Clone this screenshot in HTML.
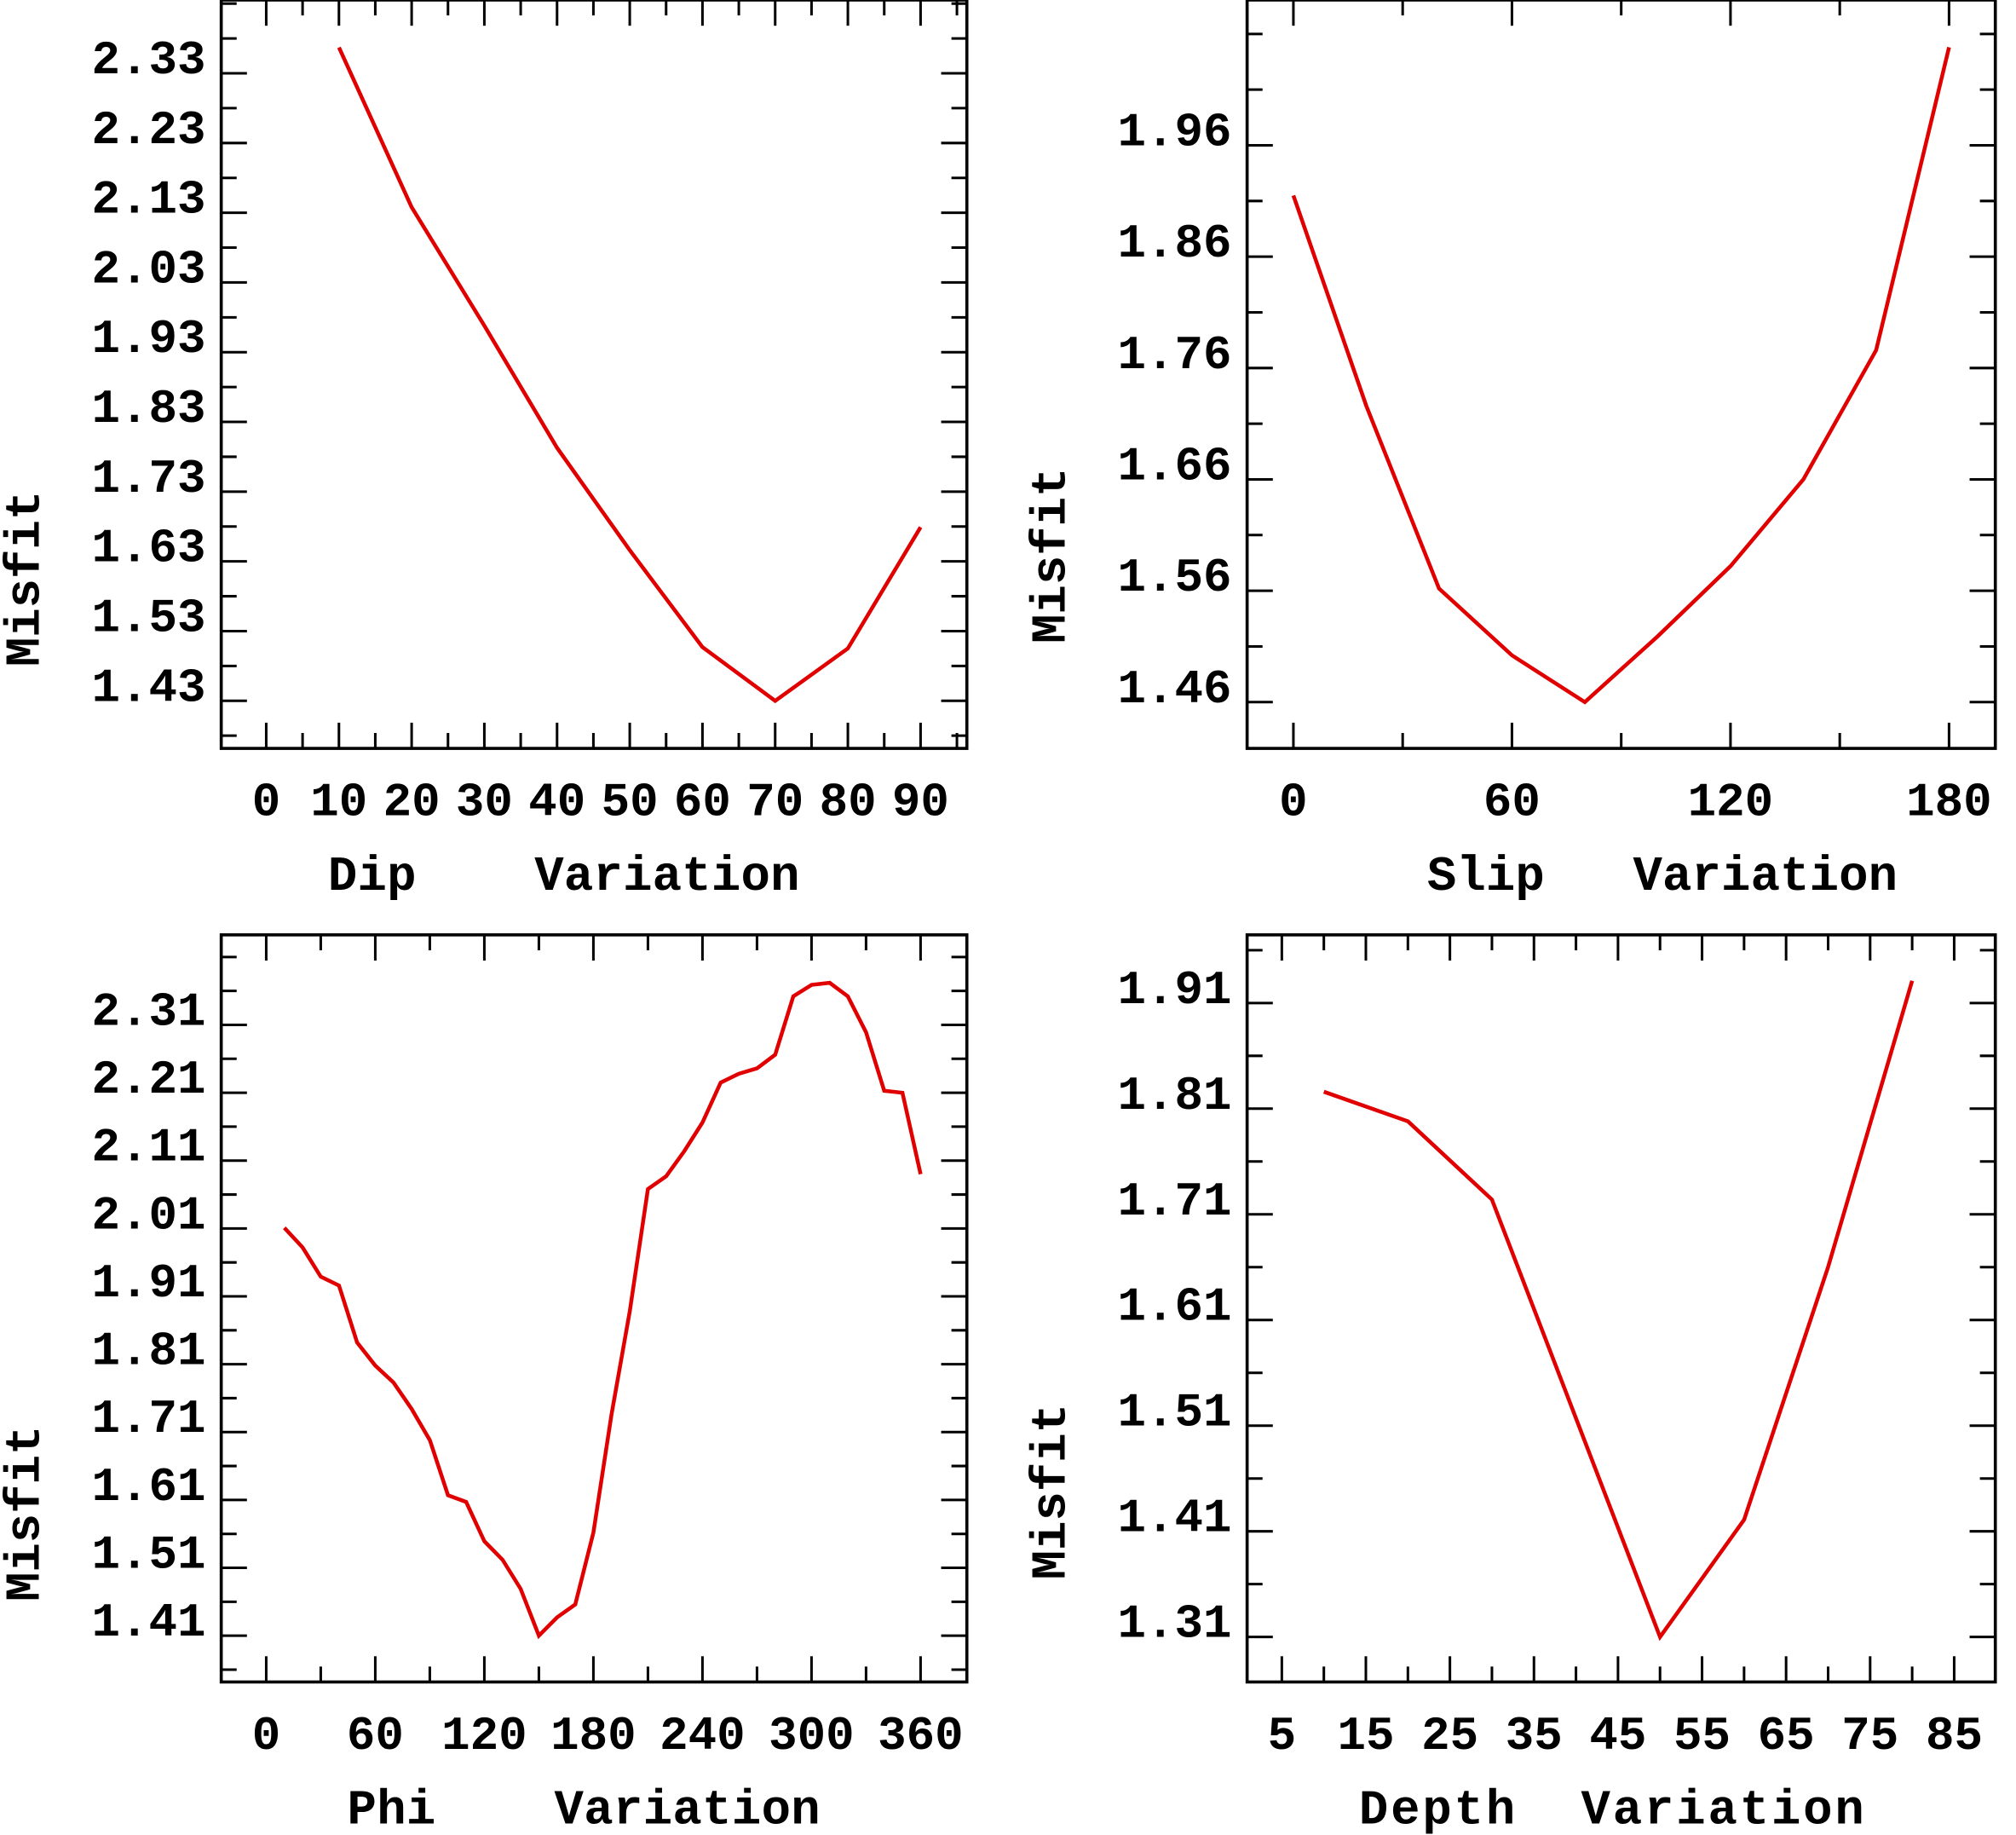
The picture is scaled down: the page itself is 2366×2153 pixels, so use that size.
<!DOCTYPE html>
<html><head><meta charset="utf-8"><style>html,body{margin:0;padding:0;background:#fff}svg{display:block}text{white-space:pre}</style></head>
<body>
<svg id="fig" xmlns="http://www.w3.org/2000/svg" width="2366" height="2153" viewBox="0 0 1568 1427" font-family="Liberation Mono, monospace" font-weight="bold"></svg>
<script>
// Dip panel
const dipX = [10,20,30,40,50,60,70,80,90];
const dipY = [2.367,2.138,1.968,1.793,1.646,1.507,1.43,1.505,1.679];
const dipXTicks = [0,10,20,30,40,50,60,70,80,90];
const dipYTicks = [2.33,2.23,2.13,2.03,1.93,1.83,1.73,1.63,1.53,1.43];
// Slip panel
const slipX = [0,20,40,60,80,100,120,140,160,180];
const slipY = [1.915,1.726,1.562,1.502,1.46,1.519,1.582,1.66,1.776,2.048];
const slipXTicks = [0,60,120,180];
const slipYTicks = [1.96,1.86,1.76,1.66,1.56,1.46];
// Phi panel
const phiX = [10,20,30,40,50,60,70,80,90,100,110,120,130,140,150,160,170,180,190,200,210,220,230,240,250,260,270,280,290,300,310,320,330,340,350,360];
const phiY = [2.011,1.982,1.939,1.926,1.842,1.808,1.783,1.744,1.698,1.617,1.607,1.549,1.522,1.479,1.410,1.437,1.456,1.562,1.736,1.888,2.068,2.087,2.124,2.166,2.225,2.238,2.246,2.266,2.352,2.369,2.372,2.352,2.299,2.213,2.210,2.090];
const phiXTicks = [0,60,120,180,240,300,360];
const phiYTicks = [2.31,2.21,2.11,2.01,1.91,1.81,1.71,1.61,1.51,1.41];
// Depth panel
const depX = [10,20,30,40,50,60,70,80];
const depY = [1.826,1.798,1.724,1.517,1.31,1.421,1.66,1.931];
const depXTicks = [5,15,25,35,45,55,65,75,85];
const depYTicks = [1.91,1.81,1.71,1.61,1.51,1.41,1.31];

const NS='http://www.w3.org/2000/svg';
const svg=document.getElementById('fig');
function mk(tag,attrs,parent){const e=document.createElementNS(NS,tag);for(const k in attrs)e.setAttribute(k,attrs[k]);(parent||svg).appendChild(e);return e;}

function panel(cfg){
  const g=mk('g',{});
  
  
  const {L,R,T,B}=cfg;
  const sx=v=>cfg.x0px+(v-cfg.x0)*(cfg.x1px-cfg.x0px)/(cfg.x1-cfg.x0);
  const sy=v=>cfg.y0px+(v-cfg.y0)*(cfg.y1px-cfg.y0px)/(cfg.y1-cfg.y0);
  const box=mk('rect',{x:L,y:T,width:R-L,height:B-T,fill:'none',stroke:'#000','stroke-width':2.4},g);
  
  
  const xs=cfg.xMinorStep, xstart=cfg.xMinorStart;
  for(let v=xstart; sx(v)<=R-2; v+=xs){
    const px=sx(v); if(px<L) continue;
    const major=cfg.xTicks.some(t=>Math.abs(t-v)<1e-6);
    const len=major?20:12;
    mk('line',{x1:px,y1:B,x2:px,y2:B-len,stroke:'#000','stroke-width':2},g);
    mk('line',{x1:px,y1:T,x2:px,y2:T+len,stroke:'#000','stroke-width':2},g);
  }
  const ys=cfg.yMinorStep;
  for(let v=cfg.yTicks[cfg.yTicks.length-1]-ys*4; v<=cfg.yTicks[0]+ys*4; v+=ys){
    const py=sy(v); if(py<T+2||py>B-2) continue;
    const major=cfg.yTicks.some(t=>Math.abs(t-v)<1e-6);
    const len=major?20:12;
    mk('line',{x1:L,y1:py,x2:L+len,y2:py,stroke:'#000','stroke-width':2},g);
    mk('line',{x1:R,y1:py,x2:R-len,y2:py,stroke:'#000','stroke-width':2},g);
  }
  cfg.xTicks.forEach(t=>{
    const tx=mk('text',{x:sx(t),y:B+52,'text-anchor':'middle','font-size':37},g);
    tx.textContent=String(t);
    
    
  });
  cfg.yTicks.forEach(t=>{
    const ty=mk('text',{x:L-12,y:sy(t)-0,'text-anchor':'end','font-size':37},g);
    ty.textContent=t.toFixed(2);
    
    
  });
  const xt=mk('text',{x:cfg.titleX,y:B+110,'font-size':38,textLength:cfg.titleW,lengthAdjust:'spacing'},g);
  xt.textContent=cfg.xTitle;
  
  
  const yt=mk('text',{x:0,y:0,'font-size':38,'text-anchor':'middle',transform:`translate(${cfg.yTitleX},${cfg.yTitleY}) rotate(-90)`},g);
  yt.textContent='Misfit';
  
  
  const pts=cfg.xs.map((x,i)=>sx(x).toFixed(1)+','+sy(cfg.ys[i]).toFixed(1)).join(' ');
  const pl=mk('polyline',{points:pts,fill:'none',stroke:'#e00000','stroke-width':3,'stroke-linejoin':'miter'},g);
  
  
}

panel({name:'dip-panel',L:172,R:752,T:0,B:582,x0:0,x1:90,x0px:207,x1px:716,y0:2.33,y1:1.43,y0px:57,y1px:545,
  xTicks:dipXTicks,yTicks:dipYTicks,xMinorStep:5,xMinorStart:0,yMinorStep:0.05,xs:dipX,ys:dipY,
  xTitle:'Dip    Variation',titleX:255,titleW:367,yTitleX:30,yTitleY:450});
panel({name:'slip-panel',L:970,R:1552,T:0,B:582,x0:0,x1:180,x0px:1006,x1px:1516,y0:1.96,y1:1.46,y0px:113,y1px:546,
  xTicks:slipXTicks,yTicks:slipYTicks,xMinorStep:30,xMinorStart:0,yMinorStep:0.05,xs:slipX,ys:slipY,
  xTitle:'Slip   Variation',titleX:1110,titleW:366,yTitleX:828,yTitleY:432});
panel({name:'phi-panel',L:172,R:752,T:727,B:1308,x0:0,x1:360,x0px:207,x1px:716,y0:2.31,y1:1.41,y0px:797,y1px:1272,
  xTicks:phiXTicks,yTicks:phiYTicks,xMinorStep:30,xMinorStart:0,yMinorStep:0.05,xs:phiX,ys:phiY,
  xTitle:'Phi    Variation',titleX:270,titleW:368,yTitleX:30,yTitleY:1177});
panel({name:'depth-panel',L:970,R:1552,T:727,B:1308,x0:5,x1:85,x0px:997,x1px:1520,y0:1.91,y1:1.31,y0px:780,y1px:1273,
  xTicks:depXTicks,yTicks:depYTicks,xMinorStep:5,xMinorStart:5,yMinorStep:0.05,xs:depX,ys:depY,
  xTitle:'Depth  Variation',titleX:1057,titleW:393,yTitleX:828,yTitleY:1160});
</script>
</body></html>
